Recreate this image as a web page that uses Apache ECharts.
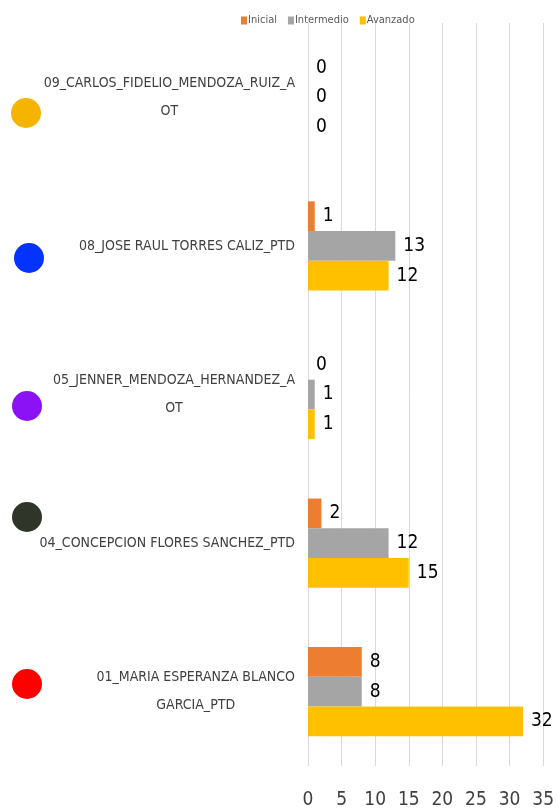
<!DOCTYPE html>
<html>
<head>
<meta charset="utf-8">
<script src="https://cdn.jsdelivr.net/npm/echarts@6/dist/echarts.min.js"></script>
<style>
  html, body { margin: 0; padding: 0; background: #fff; }
  #main { width: 557px; height: 811px; }
</style>
</head>
<body>
<div id="main"></div>
<script>
// categorias de abajo hacia arriba (con el salto de linea como en la imagen)
var categories = [
  '01_MARIA ESPERANZA BLANCO\nGARCIA_PTD',
  '04_CONCEPCION FLORES SANCHEZ_PTD',
  '05_JENNER_MENDOZA_HERNANDEZ_A\nOT',
  '08_JOSE RAUL TORRES CALIZ_PTD',
  '09_CARLOS_FIDELIO_MENDOZA_RUIZ_A\nOT'
]
var inicial = [8, 2, 0, 1, 0]
var intermedio = [8, 12, 1, 13, 0]
var avanzado = [32, 15, 1, 12, 0]
var xTicks = [0, 5, 10, 15, 20, 25, 30, 35]

var font = '"Liberation Sans Narrow", "DejaVu Sans Condensed", "Noto Sans", sans-serif'

var myChart = echarts.init(document.getElementById('main'))

function barSeries (name, color, data) {
  return {
    name: name,
    type: 'bar',
    barGap: '0%',
    barCategoryGap: '40%',
    itemStyle: { color: color },
    label: {
      show: true,
      position: 'right',
      distance: 8,
      color: '#000',
      fontSize: 19,
      fontFamily: font
    },
    data: data
  }
}

myChart.setOption({
  animation: false,
  textStyle: { fontFamily: font },
  legend: {
    top: 10,
    left: 236,
    itemWidth: 6,
    itemHeight: 8,
    itemGap: 11,
    icon: 'rect',
    textStyle: { color: '#595959', fontSize: 11, fontFamily: font, padding: [0, 0, 0, -4] },
    data: ['Inicial', 'Intermedio', 'Avanzado']
  },
  grid: {
    left: 308,
    right: 10,
    top: 23,
    bottom: 45
  },
  xAxis: {
    type: 'value',
    min: 0,
    max: 35,
    interval: 5,
    axisLine: { show: false },
    axisTick: { show: false },
    splitLine: { lineStyle: { color: '#D9D9D9', width: 1 } },
    axisLabel: {
      margin: 25,
      color: '#404040',
      fontSize: 19,
      fontFamily: font,
      formatter: function (v) { return xTicks.indexOf(v) >= 0 ? String(v) : '' }
    }
  },
  yAxis: {
    type: 'category',
    data: categories,
    axisLine: { show: false },
    axisTick: { show: false },
    axisLabel: {
      margin: 13,
      color: '#404040',
      fontSize: 14,
      lineHeight: 28,
      fontFamily: font,
      formatter: function (v) {
        return v.split('\n').map(function (s) { return '{c|' + s + '}' }).join('\n')
      },
      rich: {
        c: { align: 'center', fontSize: 14, lineHeight: 28, color: '#404040', fontFamily: font }
      }
    }
  },
  series: [
    barSeries('Inicial', '#ED7D31', inicial),
    barSeries('Intermedio', '#A5A5A5', intermedio),
    barSeries('Avanzado', '#FFC000', avanzado)
  ],
  graphic: [
    { type: 'circle', shape: { cx: 26, cy: 113, r: 15 }, style: { fill: '#F5B400' } },
    { type: 'circle', shape: { cx: 29, cy: 258, r: 15 }, style: { fill: '#0433FF' } },
    { type: 'circle', shape: { cx: 27, cy: 406, r: 15 }, style: { fill: '#8B12F5' } },
    { type: 'circle', shape: { cx: 27, cy: 517, r: 15 }, style: { fill: '#2F3528' } },
    { type: 'circle', shape: { cx: 27, cy: 684, r: 15 }, style: { fill: '#FF0000' } }
  ]
})
</script>
</body>
</html>
